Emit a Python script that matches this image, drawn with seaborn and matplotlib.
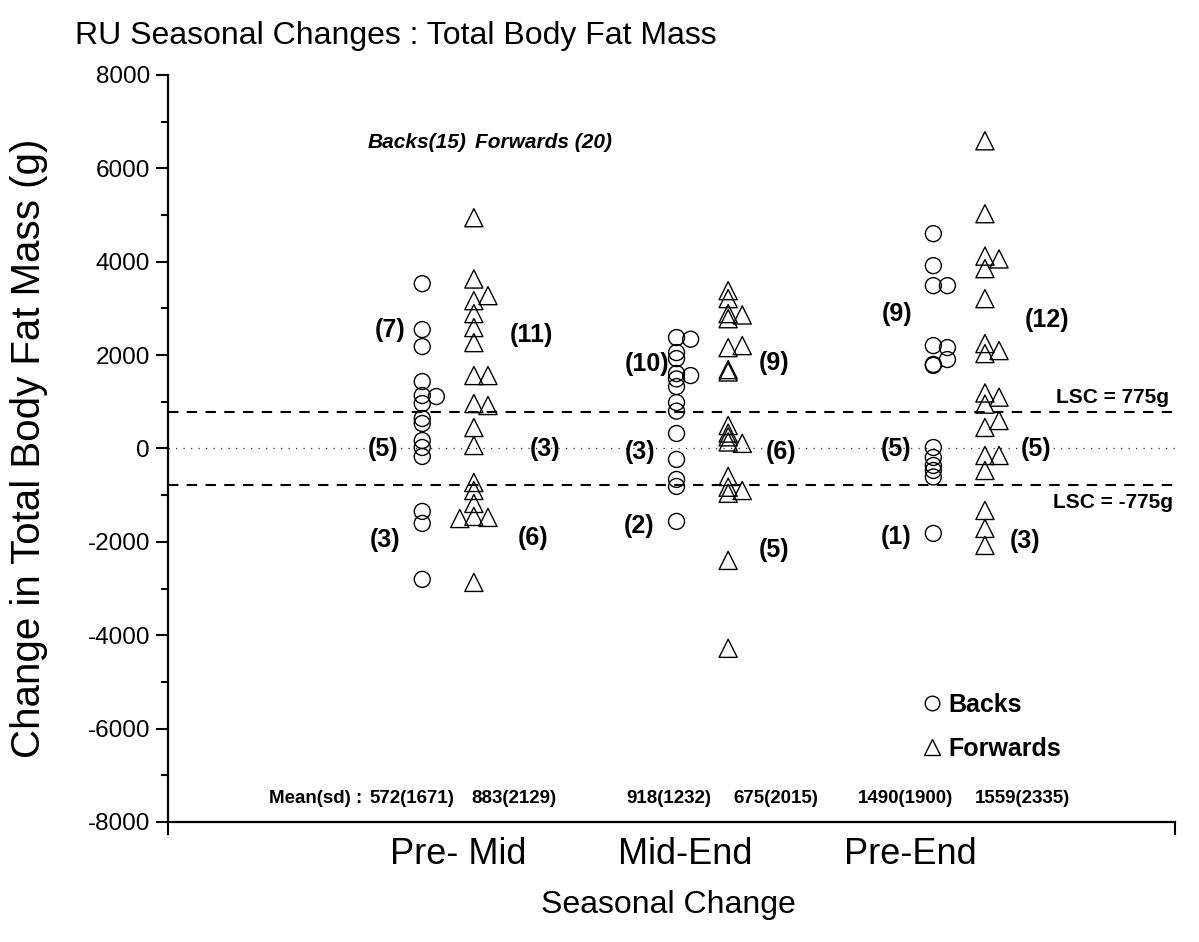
import numpy as np
import pandas as pd
import matplotlib
matplotlib.use('Agg')
import matplotlib.pyplot as plt
from matplotlib.lines import Line2D
from matplotlib.ticker import MultipleLocator
import seaborn as sns

# --- data (g) ---
periods = ['Pre- Mid', 'Mid-End', 'Pre-End']

backs_pre_mid = [3530, 2547, 2183, 1434, 1134, 1113, 963, 642, 535, 171, 21, -171, -1348, -1605, -2803]
fwds_pre_mid = [4943, 3630, 3167, 3274, 2889, 2590, 2268, 1562, 1562, 963, 920, 449, 64,
                -728, -899, -1177, -1455, -1476, -1500, -2868]

backs_mid_end = [2376, 2340, 2054, 1926, 1605, 1562, 1490, 1327, 984, 800, 321, -235, -663, -813, -1562]
fwds_mid_end = [3381, 3210, 2889, 2860, 2780, 2161, 2204, 1690, 1640, 492, 330, 250, 140, 110,
                -599, -830, -900, -960, -2397, -4280]

backs_pre_end = [4601, 3916, 3488, 3488, 2204, 2161, 1800, 1905, 1780, 21, -193, -364, -471, -610, -1819]
fwds_pre_end = [6591, 5029, 4120, 4060, 3852, 3210, 2247, 2033, 2097, 1190, 1100, 950, 451, 599,
                -150, -150, -471, -1327, -1712, -2076]

backs_mean = [572, 918, 1490]
backs_sd = [1671, 1232, 1900]
fwds_mean = [883, 675, 1559]
fwds_sd = [2129, 2015, 2335]

# counts above / within / below the LSC band
backs_counts = [[7, 5, 3], [10, 3, 2], [9, 5, 1]]
fwds_counts = [[11, 3, 6], [9, 6, 5], [12, 5, 3]]

lsc = 775
n_backs = 15
n_fwds = 20


# Origin-style column jitter: points falling in the same value bin are spread sideways
def lanes(values, bin_g=150):
    order = [0, 1, -1, 2, -2]
    seen = {}
    out = []
    for v in values:
        b = int(np.floor(v / bin_g))
        k = seen.get(b, 0)
        out.append(order[k % len(order)])
        seen[b] = k + 1
    return out


col_pos = [1.01, 2.02, 3.04]
fwd_shift = 0.205
lane_step = 0.056

rows = []
groups = [(backs_pre_mid, fwds_pre_mid), (backs_mid_end, fwds_mid_end), (backs_pre_end, fwds_pre_end)]
for i, (b, f) in enumerate(groups):
    for v, ln in zip(b, lanes(b)):
        rows.append({'period': periods[i], 'group': 'Backs', 'value': v,
                     'x': col_pos[i] + ln * lane_step})
    for v, ln in zip(f, lanes(f)):
        rows.append({'period': periods[i], 'group': 'Forwards', 'value': v,
                     'x': col_pos[i] + fwd_shift + ln * lane_step})
df = pd.DataFrame(rows)

sns.set_style('ticks')
plt.rcParams['font.family'] = ['Liberation Sans', 'DejaVu Sans']
plt.rcParams['axes.unicode_minus'] = False
for k in ['text.color', 'axes.labelcolor', 'xtick.color', 'ytick.color', 'axes.edgecolor']:
    plt.rcParams[k] = 'black'

fig = plt.figure(figsize=(11.99, 9.42), dpi=100)
ax = fig.add_axes([0.1401, 0.1274, 0.8399, 0.793])

# reference lines
ax.axhline(lsc, color='black', lw=1.5, ls=(0, (5, 4)), zorder=1)
ax.axhline(-lsc, color='black', lw=1.5, ls=(0, (5, 4)), zorder=1)
ax.axhline(0, color='#333333', lw=0.9, ls=(0, (1, 5)), zorder=1)

sns.scatterplot(data=df[df['group'] == 'Backs'], x='x', y='value', marker='o', s=132,
                facecolors='none', edgecolor='black', linewidth=1.0, ax=ax, legend=False, zorder=3)
sns.scatterplot(data=df[df['group'] == 'Forwards'], x='x', y='value', marker='^', s=170,
                facecolors='none', edgecolor='black', linewidth=1.0, ax=ax, legend=False, zorder=3)

ax.set_xlim(0, 4)
ax.set_ylim(-8000, 8000)
ax.yaxis.set_major_locator(MultipleLocator(2000))
ax.yaxis.set_minor_locator(MultipleLocator(1000))
ax.set_xticks([0, 4], labels=['', ''])
ax.set_xticks([1.152, 2.054, 2.947], labels=periods, minor=True)
ax.tick_params(axis='x', which='major', length=9, width=1.5, direction='out')
ax.tick_params(axis='x', which='minor', length=0, pad=11, labelsize=26)
ax.tick_params(axis='y', which='major', length=9, width=1.5, direction='out', pad=4, labelsize=17.5)
ax.tick_params(axis='y', which='minor', length=5, width=1.5, direction='out')
for s in ['left', 'bottom']:
    ax.spines[s].set_linewidth(1.6)
sns.despine(ax=ax)

ax.set_xlabel('Seasonal Change', fontsize=23)
ax.xaxis.set_label_coords(0.4965, -0.091)
ax.set_ylabel('Change in Total Body Fat Mass (g)', fontsize=29)
ax.yaxis.set_label_coords(-0.119, 0.5)

fig.text(0.0626, 0.9533, 'RU Seasonal Changes : Total Body Fat Mass', fontsize=23, va='baseline')

# group headers
ax.text(0.99, 6550, 'Backs(' + str(n_backs) + ')', fontsize=15, weight='bold', style='italic',
        ha='center', va='center')
ax.text(1.49, 6550, 'Forwards (' + str(n_fwds) + ')', fontsize=15, weight='bold', style='italic',
        ha='center', va='center')

# count labels (above / within / below LSC)
backs_lbl_pos = [[(0.882, 2530), (0.854, -20), (0.862, -1970)],
                 [(1.903, 1820), (1.875, -65), (1.871, -1650)],
                 [(2.896, 2890), (2.892, -20), (2.892, -1900)]]
fwds_lbl_pos = [[(1.442, 2440), (1.497, -20), (1.450, -1925)],
                [(2.407, 1840), (2.435, -65), (2.407, -2180)],
                [(3.492, 2760), (3.448, -20), (3.404, -1990)]]
for i in range(3):
    for c, (x, y) in zip(backs_counts[i], backs_lbl_pos[i]):
        ax.text(x, y, f'({c})', fontsize=18, weight='bold', ha='center', va='center')
    for c, (x, y) in zip(fwds_counts[i], fwds_lbl_pos[i]):
        ax.text(x, y, f'({c})', fontsize=18, weight='bold', ha='center', va='center')

ax.text(3.75, 1090, f'LSC = {lsc}g', fontsize=15, weight='bold', ha='center', va='center')
ax.text(3.754, -1155, f'LSC = -{lsc}g', fontsize=15, weight='bold', ha='center', va='center')

# mean(sd) row
ax.text(0.401, -7500, 'Mean(sd) :', fontsize=13.5, weight='bold', ha='left', va='center')
backs_mean_x = [0.969, 1.990, 2.928]
fwds_mean_x = [1.374, 2.415, 3.396]
for i in range(3):
    ax.text(backs_mean_x[i], -7500, f'{backs_mean[i]}({backs_sd[i]})', fontsize=13.5, weight='bold',
            ha='center', va='center')
    ax.text(fwds_mean_x[i], -7500, f'{fwds_mean[i]}({fwds_sd[i]})', fontsize=13.5, weight='bold',
            ha='center', va='center')

handles = [Line2D([], [], marker='o', ls='', mfc='none', mec='black', mew=1.0, ms=10.5),
           Line2D([], [], marker='^', ls='', mfc='none', mec='black', mew=1.0, ms=12)]
ax.legend(handles, ['Backs', 'Forwards'], loc='center left', bbox_to_anchor=(0.7463, 0.127),
          frameon=False, prop={'weight': 'bold', 'size': 18}, handlelength=1.0,
          handletextpad=0.14, labelspacing=0.8, borderpad=0, borderaxespad=0)

fig.savefig('out.png', dpi=100)
